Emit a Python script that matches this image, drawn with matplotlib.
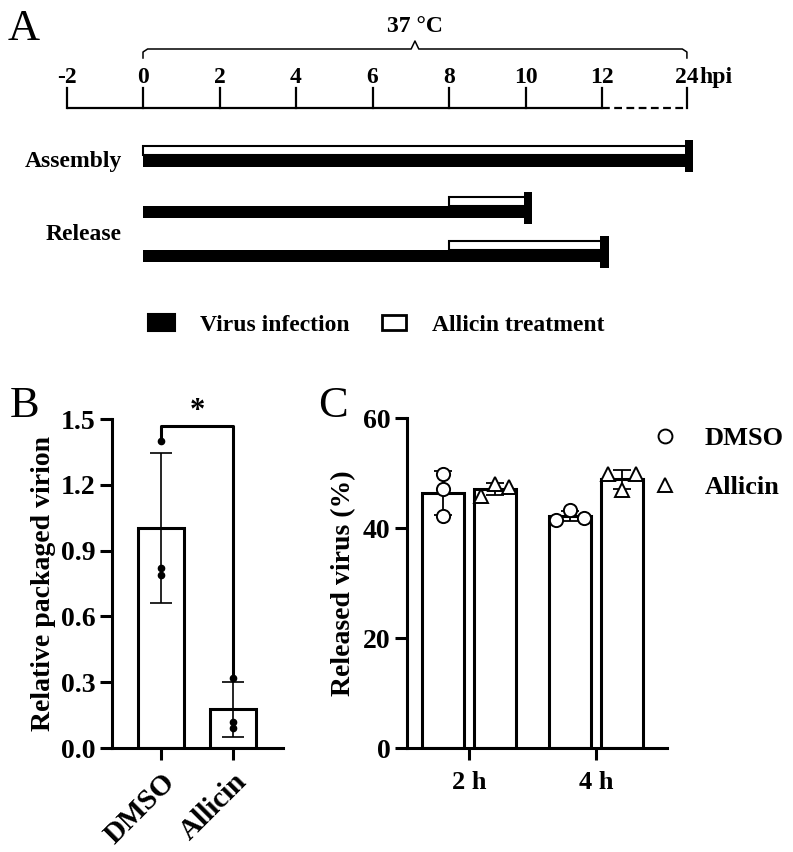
import numpy as np
import matplotlib
matplotlib.use('Agg')
import matplotlib.pyplot as plt
from matplotlib.lines import Line2D
from matplotlib.patches import Rectangle

plt.rcParams['font.family'] = ['Liberation Serif', 'DejaVu Serif']
plt.rcParams['font.weight'] = 'bold'
plt.rcParams['axes.labelweight'] = 'bold'

W, H = 793, 852

# --- data -------------------------------------------------------------
# panel A: experiment timeline (hours post infection)
tick_hours = [-2, 0, 2, 4, 6, 8, 10, 12, 24]
rows = ['Assembly', 'Release', 'Release']
infection_start = [0, 0, 0]
infection_end = [24, 10, 12]
treatment_start = [0, 8, 8]
treatment_end = [24, 10, 12]
temperature = '37 °C'
legend_a = ['Virus infection', 'Allicin treatment']

# panel B: relative packaged virion, 3 replicates each
groups_b = ['DMSO', 'Allicin']
packaged = [[1.40, 0.82, 0.79], [0.32, 0.12, 0.09]]

# panel C: released virus (%), 3 replicates each
times_c = ['2 h', '4 h']
released_dmso = [[49.9, 47.1, 42.1], [41.5, 43.3, 41.9]]
released_allicin = [[45.9, 48.0, 47.5], [49.8, 46.9, 49.8]]
series_c = ['DMSO', 'Allicin']


def hpos(h):
    # axis is broken after 12 h: 12 -> 24 drawn short and dashed
    return h if h <= 12 else 12 + (h - 12) * 2.22 / 12


fig = plt.figure(figsize=(W / 100, H / 100), dpi=100)

# --- panel A ----------------------------------------------------------
unit = 38.25   # px per hour
x0 = 143       # px of hour 0
ax_a = fig.add_axes([0, 1 - 340 / H, 1, 340 / H])
ax_a.set_xlim(-x0 / unit, (W - x0) / unit)
ax_a.set_ylim(340, 0)
ax_a.axis('off')


def px(x):
    return (x - x0) / unit


ty = 108
ax_a.plot([hpos(tick_hours[0]), hpos(12)], [ty, ty], color='k', lw=1.6,
          solid_capstyle='butt')
ax_a.plot([hpos(12), hpos(tick_hours[-1])], [ty, ty], color='k', lw=1.6,
          ls=(0, (3.5, 2)))
for h in tick_hours:
    ax_a.plot([hpos(h)] * 2, [ty, ty - 20], color='k', lw=1.6)
    ax_a.text(hpos(h), 83, f'{h}', ha='center', va='baseline', fontsize=17)
ax_a.text(hpos(tick_hours[-1]) + 12 / unit, 83, 'hpi', ha='left',
          va='baseline', fontsize=17)

# temperature brace
b0, b1 = hpos(infection_start[0]), hpos(max(infection_end))
bm = (b0 + b1) / 2
ax_a.plot([b0, b0, b0 + 0.12, bm - 0.1, bm, bm + 0.1, b1 - 0.12, b1, b1],
          [58, 52, 49, 49, 41, 49, 49, 52, 58], color='k', lw=1.1)
ax_a.text(bm, 32, temperature, ha='center', va='baseline', fontsize=17)

row_y = np.array([160.5, 212, 256])
inf_left = [hpos(s) for s in infection_start]
inf_w = [hpos(e) - hpos(s) for s, e in zip(infection_start, infection_end)]
trt_left = [hpos(s) for s in treatment_start]
trt_w = [hpos(e) - hpos(s) for s, e in zip(treatment_start, treatment_end)]
ax_a.barh(row_y, inf_w, left=inf_left, height=12, color='k')
ax_a.barh(row_y - 10.5, trt_w, left=trt_left, height=9, color='white',
          edgecolor='k', lw=1.5)
ax_a.barh(row_y - 4.5, 0.22, left=[hpos(e) - 0.05 for e in infection_end],
          height=32, color='k')

for name in dict.fromkeys(rows):
    ys = [y for r, y in zip(rows, row_y) if r == name]
    ax_a.text(px(122), np.mean(ys) + 6, name, ha='right', va='baseline',
              fontsize=17)

# legend A
ax_a.add_patch(Rectangle((px(148), 314), px(175) - px(148), 17,
                         fc='k', ec='k', lw=1.5))
ax_a.text(px(200), 331, legend_a[0], ha='left', va='baseline', fontsize=17)
ax_a.add_patch(Rectangle((px(382), 315), px(406) - px(382), 15,
                         fc='white', ec='k', lw=2))
ax_a.text(px(432), 331, legend_a[1], ha='left', va='baseline', fontsize=17)

fig.text(8 / W, 1 - 40 / H, 'A', fontsize=32, fontweight='normal',
         va='baseline')


def style_axes(ax):
    for s in ['top', 'right']:
        ax.spines[s].set_visible(False)
    for s in ['left', 'bottom']:
        ax.spines[s].set_linewidth(2.2)
    ax.tick_params(width=2.2, length=8.5, labelsize=20)


# --- panel B ----------------------------------------------------------
ax_b = fig.add_axes([112 / W, 1 - 748 / H, 171 / W, 329 / H])
xb = np.arange(len(groups_b))
mean_b = [np.mean(v) for v in packaged]
sd_b = [np.std(v, ddof=1) for v in packaged]
ax_b.bar(xb, mean_b, width=0.63, color='white', edgecolor='k', lw=2.2,
         zorder=1)
ax_b.errorbar(xb, mean_b, yerr=sd_b, fmt='none', ecolor='k', elinewidth=1.2,
              capsize=8, capthick=1.2, zorder=2)
for i, vals in enumerate(packaged):
    ax_b.plot([xb[i]] * len(vals), vals, 'o', color='k', ms=4.5, zorder=3)
ax_b.set_xlim(-0.68, 1.69)
ax_b.set_ylim(0, 1.5)
ax_b.set_yticks([0, 0.3, 0.6, 0.9, 1.2, 1.5])
ax_b.set_yticklabels([f'{t:.1f}' for t in [0, 0.3, 0.6, 0.9, 1.2, 1.5]])
ax_b.set_xticks(xb)
ax_b.set_xticklabels(groups_b, rotation=45, ha='right',
                     rotation_mode='anchor', fontsize=21)
style_axes(ax_b)
ax_b.tick_params(axis='x', labelsize=21, pad=6)
ax_b.set_ylabel('Relative packaged virion', fontsize=20, labelpad=3)

# significance bracket
top = 1.47
ax_b.plot([xb[0], xb[0], xb[1], xb[1]],
          [max(packaged[0]), top, top, max(packaged[1])], color='k', lw=2.2,
          clip_on=False, zorder=4)
ax_b.text(xb.mean(), 1.535, '*', ha='center', va='center', fontsize=22)

fig.text(10 / W, 1 - 417 / H, 'B', fontsize=32, fontweight='normal',
         va='baseline')

# --- panel C ----------------------------------------------------------
ax_c = fig.add_axes([407 / W, 1 - 748 / H, 260 / W, 330 / H])
xc = np.arange(len(times_c))
off = 0.205
markers = ['o', '^']
for k, (data, sgn) in enumerate([(released_dmso, -1), (released_allicin, 1)]):
    means = [np.mean(v) for v in data]
    sds = [np.std(v, ddof=1) for v in data]
    xs = xc + sgn * off
    ax_c.bar(xs, means, width=0.33, color='white', edgecolor='k', lw=2.2,
             zorder=1)
    ax_c.errorbar(xs, means, yerr=sds, fmt='none', ecolor='k',
                  elinewidth=1.3, capsize=6.5, capthick=1.3, zorder=2)
    for i, vals in enumerate(data):
        # replicates that overlap are spread sideways, as in Prism
        d = 0.11 if (k == 1 or i == 1) else 0
        xp = xs[i] + d * np.array([-1, 0, 1])
        ax_c.plot(xp, vals, markers[k], mfc='white', mec='k', mew=1.4,
                  ms=9.5 if k == 0 else 10, ls='none', zorder=3)
ax_c.set_xlim(-0.49, 1.56)
ax_c.set_ylim(0, 60)
ax_c.set_yticks([0, 20, 40, 60])
ax_c.set_xticks(xc)
ax_c.set_xticklabels(times_c)
style_axes(ax_c)
ax_c.tick_params(axis='x', labelsize=19, pad=8)
ax_c.set_ylabel('Released virus (%)', fontsize=20, labelpad=5)

handles = [Line2D([], [], marker=m, ls='none', mfc='white', mec='k',
                  mew=1.4, ms=10) for m in markers]
ax_c.legend(handles, series_c, loc='upper left',
            bbox_to_anchor=(652 / W, 1 - 427 / H),
            bbox_transform=fig.transFigure, frameon=False, fontsize=19,
            handlelength=1.0, handletextpad=1.0, labelspacing=0.95,
            borderpad=0, borderaxespad=0)

fig.text(318 / W, 1 - 417 / H, 'C', fontsize=32, fontweight='normal',
         va='baseline')

fig.savefig('out.png', dpi=100)
